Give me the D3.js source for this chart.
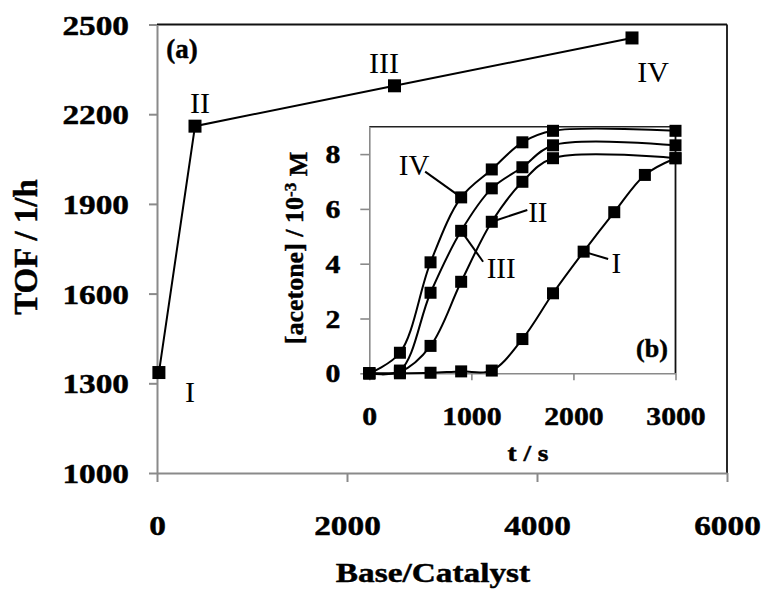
<!DOCTYPE html>
<html><head><meta charset="utf-8">
<script src="https://cdn.jsdelivr.net/npm/d3@7"></script>
<style>
html,body{margin:0;padding:0;background:#fff;}
text{font-family:"Liberation Serif","Times New Roman",serif;fill:#000;}
text.b{stroke:#000;stroke-width:0.45px;}
</style></head>
<body>
<svg id="c" width="766" height="590"></svg>
<script>
// ---------- data ----------
// main plot (a): TOF vs Base/Catalyst
const mainCats = ["I", "II", "III", "IV"];
const mainBase = [20, 400, 2500, 5000];
const mainTOF = [1336, 2160, 2295, 2455];
const mainXTicks = [0, 2000, 4000, 6000];
const mainYTicks = [1000, 1300, 1600, 1900, 2200, 2500];
// label anchor points in data units [base, TOF]
const mainLabelPos = [[347, 1238], [453, 2204], [2389, 2338], [5221, 2308]];

// inset (b): [acetone] vs t
const insetSeries = ["I", "II", "III", "IV"];
const tI = [0, 300, 600, 900, 1200, 1500, 1800, 2100, 2400, 2700, 3000];
const vI = [0, 0, 0.02, 0.07, 0.1, 1.25, 2.92, 4.44, 5.88, 7.24, 7.85];
const tII = [0, 300, 600, 900, 1200, 1500, 1800, 3000];
const vII = [0, 0.05, 1.0, 3.34, 5.53, 6.99, 7.85, 7.85];
const tIII = [0, 300, 600, 900, 1200, 1500, 1800, 3000];
const vIII = [0, 0.1, 2.94, 5.2, 6.75, 7.52, 8.32, 8.32];
const tIV = [0, 300, 600, 900, 1200, 1500, 1800, 3000];
const vIV = [0, 0.75, 4.05, 6.42, 7.44, 8.43, 8.85, 8.85];
const insetXTicks = [0, 1000, 2000, 3000];
const insetYTicks = [0, 2, 4, 6, 8];
// callouts in data units: text anchor [t,v], leader from [t,v] to [t,v]
const insetCallouts = [
  {name: "I",   text: [2421, 3.66], from: [2100, 4.44], to: [2340, 4.17]},
  {name: "II",  text: [1651, 5.52], from: [1200, 5.53], to: [1548, 5.96]},
  {name: "III", text: [1292, 3.48], from: [900, 5.2],  to: [1115, 4.07]},
  {name: "IV",  text: [439, 7.24],  from: [900, 6.42], to: [547, 7.36]}
];

// ---------- drawing ----------
const svg = d3.select("#c");
const AX = "#8a8a8a";
const SX = 1.19; // horizontal stretch of bold numeric text

// main scales
const x = d3.scaleLinear().domain([0, 6000]).range([157, 727]);
const y = d3.scaleLinear().domain([1000, 2500]).range([473, 24.5]);

// borders (top/right)
svg.append("line").attr("x1", x(0)).attr("x2", x(6000)).attr("y1", y(2500)).attr("y2", y(2500))
  .attr("stroke", "#111").attr("stroke-width", 1.8);
svg.append("line").attr("x1", x(6000)).attr("x2", x(6000)).attr("y1", y(2500)).attr("y2", y(1000))
  .attr("stroke", "#111").attr("stroke-width", 1.8);

function styleAxis(g, w) {
  g.select(".domain").attr("stroke", AX).attr("stroke-width", w);
  g.selectAll(".tick line").attr("stroke", AX).attr("stroke-width", w);
  g.selectAll("text").attr("class", "b").attr("font-weight", "bold").attr("fill", "#000");
}

const gy = svg.append("g").attr("transform", `translate(${x(0)},0)`)
  .call(d3.axisLeft(y).tickValues(mainYTicks).tickSize(8).tickSizeOuter(0).tickFormat(d3.format("d")));
styleAxis(gy, 2);
gy.selectAll("text").attr("font-size", 28).attr("x", 0).attr("dy", "0.34em")
  .attr("transform", `translate(-28,0) scale(${SX},1)`);

const gx = svg.append("g").attr("transform", `translate(0,${y(1000)})`)
  .call(d3.axisBottom(x).tickValues(mainXTicks).tickSize(9).tickSizeOuter(0).tickFormat(d3.format("d")));
styleAxis(gx, 2);
gx.selectAll("text").attr("font-size", 28).attr("y", 62).attr("dy", 0)
  .attr("transform", `scale(${SX},1)`);

// axis titles
svg.append("text").attr("class", "b").attr("transform", "translate(37,247) rotate(-90)").attr("text-anchor", "middle")
  .attr("font-size", 33).attr("font-weight", "bold").text("TOF / 1/h");
svg.append("text").attr("class", "b").attr("transform", `translate(433,582) scale(${SX},1)`).attr("text-anchor", "middle")
  .attr("font-size", 28).attr("font-weight", "bold").text("Base/Catalyst");

// main line + markers
const mainData = mainCats.map((c, i) => ({c, b: mainBase[i], v: mainTOF[i], lp: mainLabelPos[i]}));
svg.append("path").datum(mainData)
  .attr("d", d3.line().x(d => x(d.b)).y(d => y(d.v)))
  .attr("fill", "none").attr("stroke", "#000").attr("stroke-width", 2);
svg.selectAll("rect.mm").data(mainData).join("rect").attr("class", "mm")
  .attr("x", d => x(d.b) - 6.5).attr("y", d => y(d.v) - 6.5).attr("width", 13).attr("height", 13).attr("fill", "#000");
svg.selectAll("text.ml").data(mainData).join("text").attr("class", "ml")
  .attr("x", d => x(d.lp[0])).attr("y", d => y(d.lp[1])).attr("text-anchor", "middle")
  .attr("font-size", 30).text(d => d.c);
svg.append("text").attr("class", "b").attr("x", x(263)).attr("y", y(2388)).attr("text-anchor", "middle")
  .attr("font-size", 27).attr("font-weight", "bold").text("(a)");

// ---------- inset ----------
const xi = d3.scaleLinear().domain([0, 3000]).range([369.3, 675.5]);
const yi = d3.scaleLinear().domain([0, 9]).range([373.3, 126.7]);

svg.append("rect").attr("x", xi(0)).attr("y", yi(9)).attr("width", xi(3000) - xi(0)).attr("height", yi(0) - yi(9)).attr("fill", "#fff");
svg.append("line").attr("x1", xi(0)).attr("x2", xi(3000)).attr("y1", yi(9)).attr("y2", yi(9))
  .attr("stroke", "#222").attr("stroke-width", 1.5);
svg.append("line").attr("x1", xi(3000)).attr("x2", xi(3000)).attr("y1", yi(9)).attr("y2", yi(0))
  .attr("stroke", "#111").attr("stroke-width", 1.8);

const giy = svg.append("g").attr("transform", `translate(${xi(0)},0)`)
  .call(d3.axisLeft(yi).tickValues(insetYTicks).tickSize(9).tickSizeOuter(0).tickFormat(d3.format("d")));
styleAxis(giy, 1.6);
giy.selectAll("text").attr("font-size", 25).attr("x", 0).attr("dy", "0.34em")
  .attr("transform", `translate(-29,0) scale(${SX},1)`);
const gix = svg.append("g").attr("transform", `translate(0,${yi(0)})`)
  .call(d3.axisBottom(xi).tickValues(insetXTicks).tickSize(7).tickSizeOuter(0).tickFormat(d3.format("d")));
styleAxis(gix, 1.6);
gix.selectAll("text").attr("font-size", 25).attr("y", 52).attr("dy", 0)
  .attr("transform", `scale(${SX},1)`);

// inset titles
const yt = svg.append("text").attr("class", "b").attr("transform", "translate(303,248) rotate(-90)").attr("text-anchor", "middle")
  .attr("font-size", 26).attr("font-weight", "bold");
yt.append("tspan").text("[acetone] / 10");
yt.append("tspan").attr("dy", "-0.42em").attr("font-size", 17).text("-3");
yt.append("tspan").attr("dy", "0.42em").text(" M");
svg.append("text").attr("class", "b").attr("transform", `translate(528,461) scale(${SX},1)`).attr("text-anchor", "middle")
  .attr("font-size", 23).attr("font-weight", "bold").text("t / s");
svg.append("text").attr("class", "b").attr("x", xi(2769)).attr("y", yi(0.59)).attr("text-anchor", "middle")
  .attr("font-size", 26).attr("font-weight", "bold").text("(b)");

// inset series
const series = [
  {name: "I", t: tI, v: vI},
  {name: "II", t: tII, v: vII},
  {name: "III", t: tIII, v: vIII},
  {name: "IV", t: tIV, v: vIV}
].map(s => ({name: s.name, pts: s.t.map((t, i) => [t, s.v[i]])}));

const lineI = d3.line().x(d => xi(d[0])).y(d => yi(d[1])).curve(d3.curveCatmullRom.alpha(0.5));
svg.selectAll("path.is").data(series).join("path").attr("class", "is")
  .attr("d", d => lineI(d.pts)).attr("fill", "none").attr("stroke", "#000").attr("stroke-width", 2);
svg.selectAll("g.im").data(series).join("g").attr("class", "im")
  .selectAll("rect").data(d => d.pts).join("rect")
  .attr("x", d => xi(d[0]) - 6).attr("y", d => yi(d[1]) - 6).attr("width", 12).attr("height", 12).attr("fill", "#000");

// callouts
svg.selectAll("line.co").data(insetCallouts).join("line").attr("class", "co")
  .attr("x1", d => xi(d.from[0])).attr("y1", d => yi(d.from[1]))
  .attr("x2", d => xi(d.to[0])).attr("y2", d => yi(d.to[1]))
  .attr("stroke", "#000").attr("stroke-width", 2);
svg.selectAll("text.ct").data(insetCallouts).join("text").attr("class", "ct")
  .attr("x", d => xi(d.text[0])).attr("y", d => yi(d.text[1])).attr("text-anchor", "middle")
  .attr("font-size", 29).text(d => d.name);
</script>
</body></html>
